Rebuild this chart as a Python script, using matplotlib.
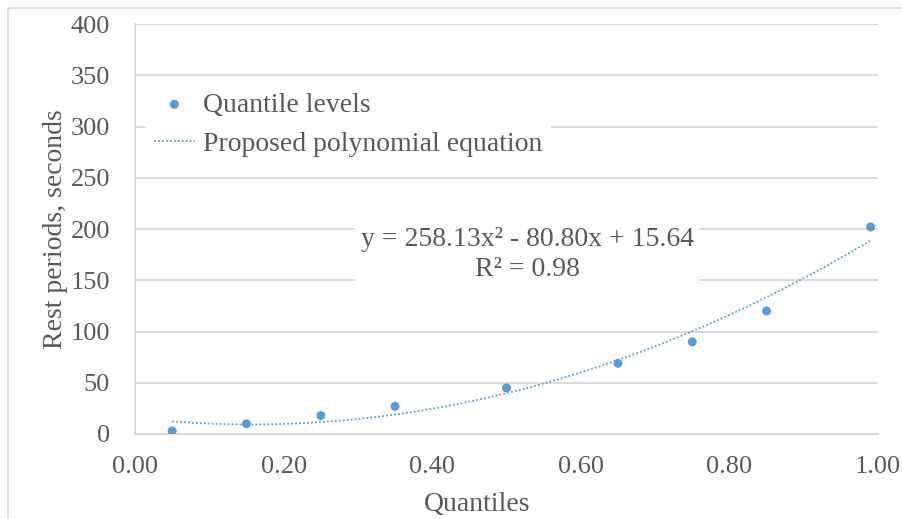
import numpy as np
import matplotlib
matplotlib.use("Agg")
import matplotlib.pyplot as plt

# data
quantiles = [0.05, 0.15, 0.25, 0.35, 0.50, 0.65, 0.75, 0.85, 0.99]
rest_periods = [3, 10, 18, 27, 45, 69, 90, 120, 202]
# trendline coefficients as printed on the chart (x^2, x, const)
poly_coefs = [258.13, -80.80, 15.64]

x_ticks = [0.0, 0.2, 0.4, 0.6, 0.8, 1.0]
y_ticks = [0, 50, 100, 150, 200, 250, 300, 350, 400]

blue = "#5B9BD5"
grid_col = "#d9d9d9"
text_col = "#595959"
fs_tick = 19
fs = 20

plt.rcParams['font.family'] = ['Liberation Serif', 'DejaVu Serif']

W, H = 902, 519
fig = plt.figure(figsize=(W / 100, H / 100), dpi=100)
ax = fig.add_axes([135 / W, (H - 434) / H, (878 - 135) / W, (434 - 24) / H])

# outer chart border (cut off at right/bottom in the original)
fig.patches.append(plt.Rectangle((8 / W, -0.1), 1.2, (H - 8) / H + 0.1,
                                 transform=fig.transFigure, fill=False,
                                 edgecolor=grid_col, lw=1.2))

xs = np.linspace(quantiles[0], quantiles[-1], 200)
ys = np.polyval(poly_coefs, xs)

ax.scatter(quantiles, rest_periods, s=42, color=blue, zorder=3,
           label="Quantile levels", edgecolors="none")
ax.plot(xs, ys, color=blue, lw=1.3, linestyle=(0, (1, 1.2)), zorder=4,
        label="Proposed polynomial equation")

ax.set_xlim(0, 1.0)
ax.set_ylim(0, 400)
ax.set_xticks(x_ticks)
ax.set_xticklabels([f"{t:.2f}" for t in x_ticks])
ax.set_yticks(y_ticks)
ax.tick_params(axis='both', length=0, labelsize=fs_tick, colors=text_col)
ax.tick_params(axis='y', pad=18)
ax.tick_params(axis='x', pad=16)

ax.grid(axis='y', color=grid_col, lw=1.3, zorder=0)
ax.set_axisbelow(True)
for s in ['top', 'right']:
    ax.spines[s].set_visible(False)
ax.spines['left'].set_color(grid_col)
ax.spines['bottom'].set_color(grid_col)
ax.spines['left'].set_linewidth(1.3)
ax.spines['bottom'].set_linewidth(1.5)

ax.set_xlabel("Quantiles", fontsize=fs, color=text_col, va='center')
ax.set_ylabel("Rest periods, seconds", fontsize=fs, color=text_col, va='center')
ax.xaxis.set_label_coords(0.46, -0.171)
ax.yaxis.set_label_coords(-0.107, 0.5)

leg = ax.legend(loc='upper left', bbox_to_anchor=(-0.004, 0.888), fontsize=fs,
                frameon=True, facecolor='white', edgecolor='none',
                framealpha=1, fancybox=False, handlelength=1.45,
                handletextpad=0.3, labelspacing=0.5, borderpad=0.3,
                labelcolor=text_col)

ax.text(0.528, 175, "y = 258.13x² - 80.80x + 15.64\nR² = 0.98",
        ha='center', va='center', multialignment='center', fontsize=fs,
        color=text_col, linespacing=1.25, zorder=5,
        bbox=dict(facecolor='white', edgecolor='none', pad=4))

fig.savefig("out.png", dpi=100)
